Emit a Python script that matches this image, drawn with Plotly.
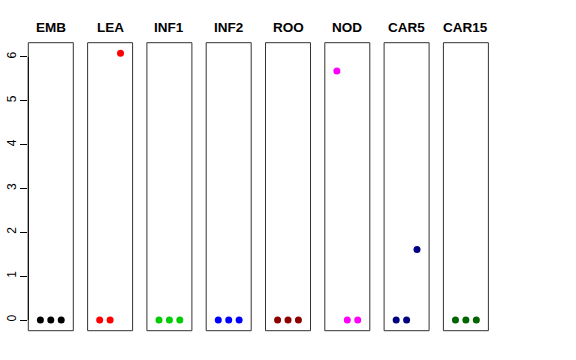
import plotly.graph_objects as go

tissues = ["EMB", "LEA", "INF1", "INF2", "ROO", "NOD", "CAR5", "CAR15"]
colors = ["#000000", "#FF0000", "#00CD00", "#0000FF", "#8B0000", "#FF00FF", "#000080", "#006400"]
reps = [1, 2, 3]
values = {
    "EMB": [0, 0, 0],
    "LEA": [0, 0, 6.08],
    "INF1": [0, 0, 0],
    "INF2": [0, 0, 0],
    "ROO": [0, 0, 0],
    "NOD": [5.68, 0, 0],
    "CAR5": [0, 0, 1.61],
    "CAR15": [0, 0, 0],
}
yticks = [0, 1, 2, 3, 4, 5, 6]

W, H = 576, 360
left0, step, pw = 28.3, 59.3, 45.0
top, bottom = 42.7, 330.7

fig = go.Figure()
shapes = []
annotations = []
for i, (t, c) in enumerate(zip(tissues, colors)):
    n = "" if i == 0 else str(i + 1)
    xa = "x" + n
    ya = "y" + n
    fig.add_trace(go.Scatter(x=reps, y=values[t], mode="markers",
                             marker=dict(color=c, size=7, line=dict(width=0)),
                             xaxis=xa, yaxis=ya, showlegend=False, hoverinfo="skip"))
    x0 = (left0 + i * step) / W
    x1 = (left0 + i * step + pw) / W
    fig.update_layout(**{
        "xaxis" + n: dict(domain=[x0, x1], range=[-0.16, 4.16], visible=False, fixedrange=True,
                          anchor=ya),
        "yaxis" + n: dict(domain=[(H - bottom) / H, (H - top) / H], range=[-0.243, 6.323],
                          anchor=xa, visible=(i == 0), showgrid=False, zeroline=False,
                          showline=False, ticks="outside", ticklen=7, tickwidth=1,
                          tickcolor="#000", tickvals=yticks, tickangle=-90,
                          tickfont=dict(family="Liberation Sans, Arial", size=12, color="#000"),
                          automargin=False, fixedrange=True),
    })
    shapes.append(dict(type="rect", xref=xa + " domain", yref=ya + " domain",
                       x0=0, x1=1, y0=0, y1=1, line=dict(color="#333", width=1), layer="above"))
    annotations.append(dict(text="<b>%s</b>" % t, x=(x0 + x1) / 2, y=(H - 28) / H,
                            xref="paper", yref="paper", showarrow=False,
                            font=dict(family="Liberation Sans, Arial", size=13.5, color="#000"),
                            xanchor="center", yanchor="middle"))

shapes.append(dict(type="line", xref="x domain", yref="y", x0=0, x1=0, y0=0, y1=6,
                   line=dict(color="#000", width=1), layer="above"))

fig.update_layout(width=W, height=H, margin=dict(l=0, r=0, t=0, b=0),
                  paper_bgcolor="white", plot_bgcolor="white",
                  shapes=shapes, annotations=annotations)
fig.write_html("out.html", config={"displayModeBar": False},
               post_script="document.body.style.margin='0';")
